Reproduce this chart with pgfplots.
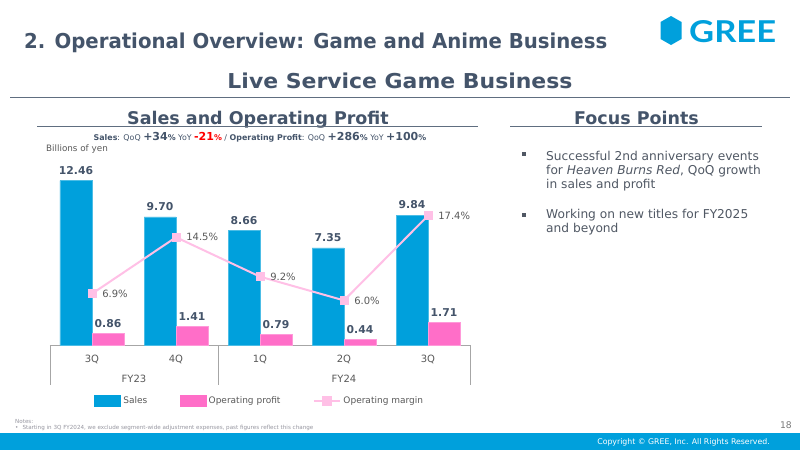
\documentclass[border=0pt]{standalone}
\usepackage{graphicx}
\usepackage{pgfplots}
\pgfplotsset{compat=1.18}
\usepackage{pgfplotstable}
\usepackage{fontspec}
\setmainfont{DejaVu Sans}
\newfontfamily\logofont{Lato}

\definecolor{ink}{RGB}{68,84,106}
\definecolor{greeblue}{RGB}{0,160,220}
\definecolor{profitpink}{RGB}{255,110,200}
\definecolor{marginpink}{RGB}{255,192,230}
\definecolor{labelgray}{RGB}{89,89,89}
\definecolor{rulegray}{RGB}{166,166,166}
\definecolor{bodygray}{RGB}{80,88,100}
\definecolor{notegray}{RGB}{150,150,160}
\definecolor{downred}{RGB}{255,0,0}

% quarterly results, billions of yen and operating margin in percent
\pgfplotstableread{
x sales profit margin
0 12.46 0.86 6.9
1 9.70 1.41 14.5
2 8.66 0.79 9.2
3 7.35 0.44 6.0
4 9.84 1.71 17.4
}\results

\begin{document}
\begin{tikzpicture}
\begin{scope}[x=1pt,y=-1pt]
\useasboundingbox (0,0) rectangle (800,450);
\fill[white] (0,0) rectangle (800,450);

% page header
\node[anchor=base west, text=ink, inner sep=0] at (24,48)
  {\resizebox{583pt}{\height}{\fontsize{20.5}{24}\selectfont\bfseries 2. Operational Overview: Game and Anime Business}};
\fill[greeblue] (671,16) -- (681.5,22) -- (681.5,39) -- (671,45) -- (660.5,39) -- (660.5,22) -- cycle;
\node[anchor=base west, text=greeblue, inner sep=0] at (689,42)
  {\resizebox{87pt}{22pt}{\logofont\bfseries GREE}};
\node[anchor=base, text=ink, inner sep=0] at (400,88)
  {\resizebox{345pt}{\height}{\fontsize{20.5}{24}\selectfont\bfseries Live Service Game Business}};
\draw[ink!85, line width=1pt] (10,97) -- (790,97);

% section headings
\node[anchor=base, text=ink, inner sep=0] at (258,124)
  {\fontsize{17.5}{20}\selectfont\bfseries Sales and Operating Profit};
\draw[ink!85, line width=0.8pt] (37,126.5) -- (478,126.5);
\node[anchor=base, text=ink, inner sep=0] at (636.5,124)
  {\fontsize{17.5}{20}\selectfont\bfseries Focus Points};
\draw[ink!85, line width=0.8pt] (510,126.5) -- (762,126.5);

% change summary
\node[anchor=base, text=ink, inner sep=0] at (260,140.5)
  {\fontsize{7.9}{9}\selectfont\textbf{Sales}: QoQ {\fontsize{11}{12}\selectfont\bfseries +34}\textbf{\%} YoY {\color{downred}\fontsize{11}{12}\selectfont\bfseries -21{\fontsize{7.9}{9}\selectfont\%}} / \textbf{Operating Profit}: QoQ {\fontsize{11}{12}\selectfont\bfseries +286}\textbf{\%} YoY {\fontsize{11}{12}\selectfont\bfseries +100}\textbf{\%}};
\node[anchor=base west, text=labelgray, inner sep=0] at (46,151)
  {\fontsize{8.8}{10}\selectfont Billions of yen};

% focus points
\fill[bodygray] (522,152) rectangle (526,156);
\fill[bodygray] (522,213) rectangle (526,217);
\begin{scope}[every node/.style={anchor=base west, text=bodygray, inner sep=0, font=\fontsize{12.2}{14}\selectfont}]
\node at (546,160) {Successful 2nd anniversary events};
\node at (546,174.5) {for \textit{Heaven Burns Red}, QoQ growth};
\node at (546,188.5) {in sales and profit};
\node at (546,218) {Working on new titles for FY2025};
\node at (546,232.5) {and beyond};
\end{scope}

% fiscal-year grouping under the quarter labels
\draw[rulegray, line width=0.8pt] (50,345) -- (50,385);
\draw[rulegray, line width=0.8pt] (218,345) -- (218,385);
\draw[rulegray, line width=0.8pt] (470,345) -- (470,385);
\node[text=labelgray, font=\fontsize{10}{12}\selectfont] at (134,379) {FY23};
\node[text=labelgray, font=\fontsize{10}{12}\selectfont] at (344,379) {FY24};

% footer
\node[anchor=west, text=notegray, inner sep=0, font=\fontsize{5.6}{6}\selectfont] at (15,421.5) {Notes:};
\node[anchor=west, text=notegray, inner sep=0, font=\fontsize{5.6}{6}\selectfont] at (15,428) {\textbullet\hspace{4pt}Starting in 3Q FY2024, we exclude segment-wide adjustment expenses, past figures reflect this change};
\node[anchor=east, text=labelgray!80, inner sep=0, font=\fontsize{9.2}{11}\selectfont] at (792,425) {18};
\fill[greeblue] (0,433) rectangle (800,450);
\node[anchor=east, text=white, inner sep=0, font=\fontsize{7.8}{9}\selectfont] at (770,442) {Copyright \textcopyright{} GREE, Inc. All Rights Reserved.};
\end{scope}

% sales and operating profit bars
\begin{axis}[
  at={(50pt,-345pt)}, anchor=south west,
  width=420pt, height=195pt, scale only axis,
  xmin=-0.5, xmax=4.5, ymin=0, ymax=14.77,
  axis x line*=bottom, axis y line=none,
  x axis line style={rulegray, line width=0.8pt},
  xtick={0,...,4}, xticklabels={3Q,4Q,1Q,2Q,3Q},
  major tick length=0pt,
  xticklabel style={font=\fontsize{10}{12}\selectfont, text=labelgray, yshift=-7pt},
  ybar, bar width=32pt,
  clip=false,
  nodes near coords={\pgfmathprintnumber[fixed,fixed zerofill,precision=2,assume math mode=true]{\pgfplotspointmeta}},
  nodes near coords style={font=\fontsize{10.8}{12}\selectfont\bfseries, text=ink, anchor=south, yshift=2.5pt},
]
\addplot[fill=greeblue, draw=greeblue!70!white, line width=0.4pt, bar shift=-16pt] table[x=x,y=sales]{\results};
\addplot[fill=profitpink, draw=profitpink!70!white, line width=0.4pt, bar shift=16pt] table[x=x,y=profit]{\results};
\end{axis}

% operating margin on its own scale
\begin{axis}[
  at={(50pt,-345pt)}, anchor=south west,
  width=420pt, height=195pt, scale only axis,
  xmin=-0.5, xmax=4.5, ymin=0, ymax=26.24,
  hide axis, clip=false,
  nodes near coords={\pgfmathprintnumber[fixed,fixed zerofill,precision=1,assume math mode=true]{\pgfplotspointmeta}\%},
  nodes near coords style={font=\fontsize{10}{12}\selectfont, text=labelgray, anchor=west, xshift=7pt},
  legend style={at={(0.5,-0.287)}, anchor=center, draw=none, fill=none,
    font=\fontsize{9}{10}\selectfont, text=labelgray,
    nodes={inner sep=2.5pt},
    /tikz/every even column/.append style={column sep=30pt}},
  legend columns=3, legend cell align=left,
]
\addlegendimage{legend image code/.code={\fill[greeblue] (0pt,-5.5pt) rectangle (26pt,5.5pt);}}
\addlegendentry{Sales}
\addlegendimage{legend image code/.code={\fill[profitpink] (0pt,-5.5pt) rectangle (26pt,5.5pt);}}
\addlegendentry{Operating profit}
\addplot[marginpink, line width=2pt, mark=square*, mark size=4pt,
  mark options={fill=marginpink, draw=marginpink, line width=0pt},
  legend image code/.code={\draw[marginpink, line width=2pt] (0pt,0pt) -- (26pt,0pt);
    \fill[marginpink] (9pt,-4pt) rectangle (17pt,4pt);}]
  table[x=x,y=margin]{\results};
\addlegendentry{Operating margin}
\end{axis}
\end{tikzpicture}
\end{document}
